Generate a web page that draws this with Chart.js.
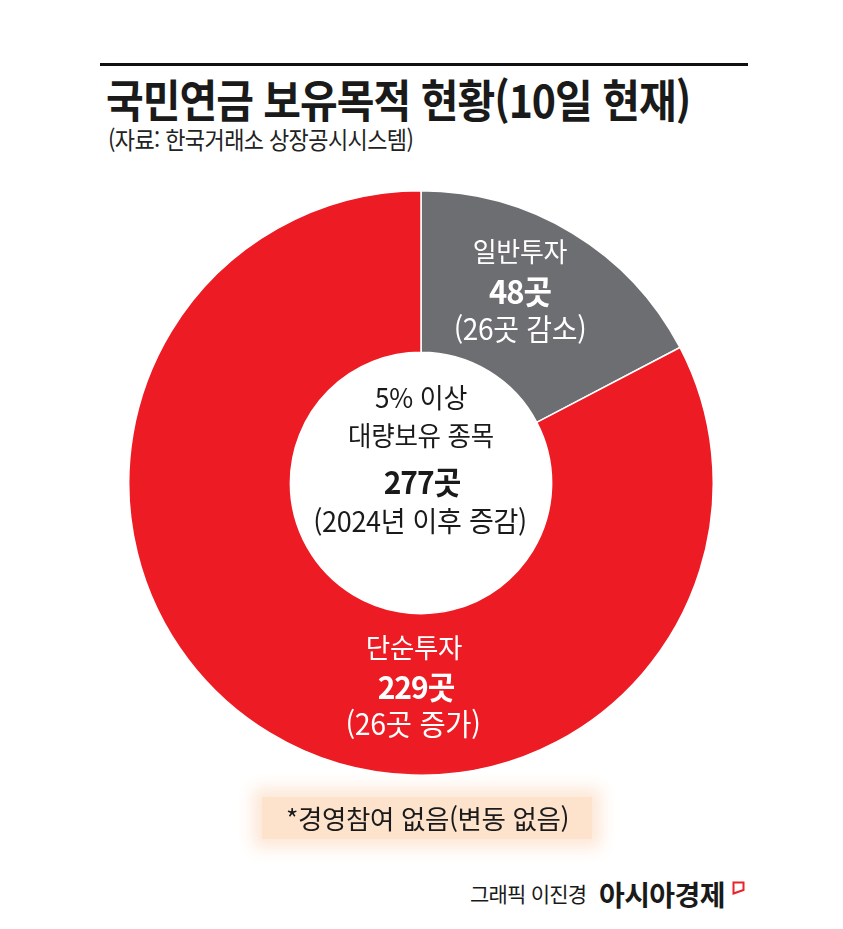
<!DOCTYPE html>
<html lang="ko">
<head>
<meta charset="utf-8">
<script src="https://cdn.jsdelivr.net/npm/chart.js@4.4.1/dist/chart.umd.min.js"></script>
<style>
  html, body { margin: 0; padding: 0; background: #fff; }
  body { width: 843px; height: 929px; position: relative; overflow: hidden;
         font-family: "Noto Sans CJK KR", "Noto Sans", sans-serif; color: #1a1a1a; }
  .rule { position: absolute; left: 100px; top: 63px; width: 648px; height: 3px; background: #111; }
  .title { position: absolute; left: 106px; top: 76px; font-size: 41px; line-height: 1; font-weight: 700;
           letter-spacing: -1px; transform: scaleY(1.1); transform-origin: left top; white-space: nowrap; }
  .source { position: absolute; left: 108px; top: 126px; font-size: 22px; line-height: 1; letter-spacing: -0.6px;
            transform: scaleY(1.1); transform-origin: left top; white-space: nowrap; color: #222; }
  #wrap { position: absolute; left: 128px; top: 190px; width: 586px; height: 586px; }
  .lbl { position: absolute; text-align: center; white-space: nowrap; line-height: 1; letter-spacing: -0.3px; }
  .lbl div { transform: scaleY(1.05); transform-origin: center top; }
  .w { color: #fff; }
  .b { font-weight: 700; letter-spacing: -1px; }
  .note { position: absolute; left: 262px; top: 797px; width: 330px; height: 42px;
          background: #fde2cc; box-shadow: 0 0 16px 9px #fde7d6; }
  .noteText { position: absolute; left: 6px; width: 843px; top: 805px; text-align: center; line-height: 1;
              font-size: 26.5px; letter-spacing: -0.4px; white-space: nowrap; color: #1a1a1a; }
  .credit { position: absolute; left: 470px; top: 883px; font-size: 21px; line-height: 1; letter-spacing: -0.8px; white-space: nowrap; }
  .brand { position: absolute; left: 599px; top: 880px; font-size: 28px; line-height: 1; font-weight: 700; letter-spacing: -0.6px; white-space: nowrap; }
  .logo { position: absolute; left: 732px; top: 881px; }
</style>
</head>
<body>
<div class="rule"></div>
<div class="title">국민연금 보유목적 현황(10일 현재)</div>
<div class="source">(자료: 한국거래소 상장공시시스템)</div>

<div id="wrap"><canvas id="chart" width="586" height="586"></canvas></div>

<!-- center label -->
<div class="lbl" style="left:221px; width:400px; top:383px; font-size:26px;"><div>5% 이상</div></div>
<div class="lbl" style="left:221px; width:400px; top:421px; font-size:25.5px;"><div>대량보유 종목</div></div>
<div class="lbl b" style="left:222px; width:400px; top:465px; font-size:30px;"><div>277곳</div></div>
<div class="lbl" style="left:220px; width:400px; top:506px; font-size:27px;"><div>(2024년 이후 증감)</div></div>

<!-- gray segment label -->
<div class="lbl w" style="left:420px; width:200px; top:237px; font-size:26px;"><div>일반투자</div></div>
<div class="lbl w b" style="left:420px; width:200px; top:274px; font-size:31px;"><div>48곳</div></div>
<div class="lbl w" style="left:420px; width:200px; top:313px; font-size:28px;"><div>(26곳 감소)</div></div>

<!-- red segment label -->
<div class="lbl w" style="left:314px; width:200px; top:633px; font-size:26.5px;"><div>단순투자</div></div>
<div class="lbl w b" style="left:316px; width:200px; top:670px; font-size:30px;"><div>229곳</div></div>
<div class="lbl w" style="left:313px; width:200px; top:708px; font-size:28.5px;"><div>(26곳 증가)</div></div>

<div class="note"></div>
<div class="noteText">*경영참여 없음(변동 없음)</div>

<div class="credit">그래픽 이진경</div>
<div class="brand">아시아경제</div>
<svg class="logo" width="13" height="14" viewBox="0 0 13 14">
  <polygon points="1.5,1.5 11.5,1.5 11.5,9 1.5,12.5" fill="none" stroke="#e8242b" stroke-width="2"/>
</svg>

<script>
const categories = ["일반투자", "단순투자"];
const counts = [48, 229];
const sliceColors = ["#6d6e71", "#ed1c24"];

new Chart(document.getElementById("chart"), {
  type: "doughnut",
  data: {
    labels: categories,
    datasets: [{
      data: counts,
      backgroundColor: sliceColors,
      borderColor: "#ffffff",
      borderWidth: 1.5,
      hoverOffset: 0
    }]
  },
  options: {
    responsive: false,
    animation: false,
    cutout: "44.7%",
    rotation: 0,
    layout: { padding: 0 },
    plugins: {
      legend: { display: false },
      tooltip: { enabled: false }
    }
  }
});
</script>
</body>
</html>
